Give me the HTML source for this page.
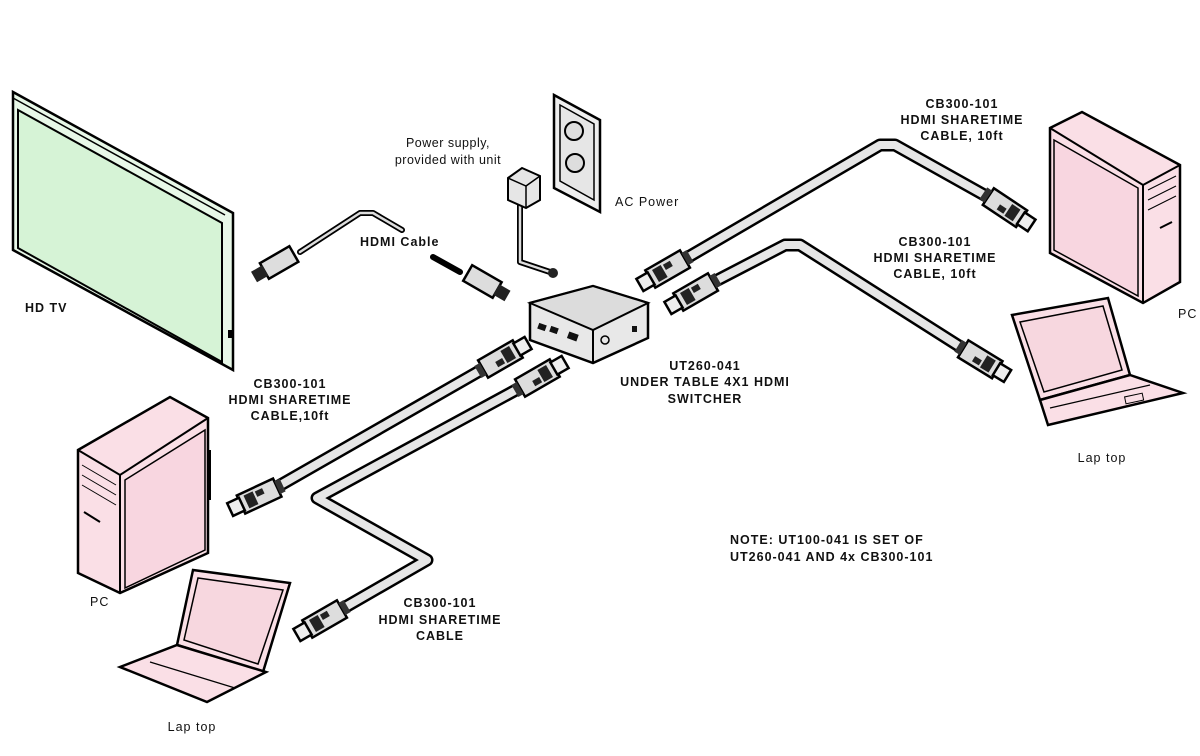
<!DOCTYPE html>
<html><head><meta charset="utf-8"><style>
html,body{margin:0;padding:0;background:#fff;width:1200px;height:756px;overflow:hidden}
text{font-family:"Liberation Sans",sans-serif;font-weight:bold;font-size:12.5px;fill:#111;letter-spacing:1px}
</style></head><body>
<svg width="1200" height="756" viewBox="0 0 1200 756" xmlns="http://www.w3.org/2000/svg">
<defs>
<g id="conn">
 <rect x="-32" y="-10" width="40" height="20" fill="#ddd" stroke="#000" stroke-width="2.5"/>
 <rect x="-26" y="-7" width="10" height="14" fill="#222"/>
 <rect x="-14" y="-6" width="8" height="6" fill="#222"/>
 <rect x="-44" y="-7" width="13" height="14" fill="#eee" stroke="#000" stroke-width="2.5"/>
 <rect x="8" y="-7" width="6" height="14" fill="#333"/>
</g>
</defs>
<g stroke-linejoin="round" stroke-linecap="round" fill="none">
<path d="M678,263 L880,145 L895,145 L995,201" stroke="#000" stroke-width="13"/>
<path d="M678,263 L880,145 L895,145 L995,201" stroke="#e6e6e6" stroke-width="8"/>
<path d="M706,286 L785,245 L800,245 L970,353" stroke="#000" stroke-width="13"/>
<path d="M706,286 L785,245 L800,245 L970,353" stroke="#e6e6e6" stroke-width="8"/>
<path d="M490,365 L270,491" stroke="#000" stroke-width="13"/>
<path d="M490,365 L270,491" stroke="#e6e6e6" stroke-width="8"/>
<path d="M527,384 L317,498 L427,560 L335,613" stroke="#000" stroke-width="13"/>
<path d="M527,384 L317,498 L427,560 L335,613" stroke="#e6e6e6" stroke-width="8"/>
<path d="M300,252 L360,213 L373,213 L402,230" stroke="#000" stroke-width="6"/>
<path d="M300,252 L360,213 L373,213 L402,230" stroke="#ddd" stroke-width="2.5"/>
<path d="M433,257 L460,272" stroke="#000" stroke-width="6"/>
<path d="M520,205 L520,262 L550,272" stroke="#000" stroke-width="6"/>
<path d="M520,205 L520,262 L550,272" stroke="#ddd" stroke-width="2.5"/>
</g>
<g transform="translate(280,262) rotate(-30)"><rect x="-18" y="-9" width="34" height="18" fill="#ddd" stroke="#000" stroke-width="2.5"/><rect x="-30" y="-6" width="13" height="12" fill="#222"/></g>
<g transform="translate(485,283) rotate(30)"><rect x="-20" y="-9" width="34" height="18" fill="#ddd" stroke="#000" stroke-width="2.5"/><rect x="13" y="-6" width="13" height="12" fill="#222"/></g>
<circle cx="553" cy="273" r="5" fill="#222"/>
<polygon points="13,92 233,213 233,370 13,250" fill="#e8f8e8" stroke="#000" stroke-width="2.5"/>
<polygon points="18,110 222,223 222,362 18,248" fill="#d6f3d6" stroke="#000" stroke-width="2"/>
<line x1="13" y1="98" x2="225" y2="215" stroke="#000" stroke-width="1.5"/>
<rect x="228" y="330" width="4" height="8" fill="#000"/>
<polygon points="508,178 522,168 540,176 540,200 526,208 508,200" fill="#e6e6e6" stroke="#000" stroke-width="2"/>
<polyline points="508,178 526,186 540,176" fill="none" stroke="#000" stroke-width="1.5"/>
<line x1="526" y1="186" x2="526" y2="208" stroke="#000" stroke-width="1.5"/>
<polygon points="554,95 600,120 600,212 554,188" fill="#eee" stroke="#000" stroke-width="2.5"/>
<polygon points="560,105 594,124 594,200 560,181" fill="#e6e6e6" stroke="#000" stroke-width="1.5"/>
<circle cx="574" cy="131" r="9" fill="#ddd" stroke="#000" stroke-width="2"/>
<circle cx="575" cy="163" r="9" fill="#ddd" stroke="#000" stroke-width="2"/>
<polygon points="530,303 593,286 648,303 648,338 593,363 530,340" fill="#e8e8e8" stroke="#000" stroke-width="2.5"/>
<polygon points="530,303 593,286 648,303 593,330" fill="#dcdcdc" stroke="#000" stroke-width="2"/>
<line x1="593" y1="330" x2="593" y2="363" stroke="#000" stroke-width="2"/>
<rect x="538" y="324" width="8" height="6" fill="#111" transform="rotate(20 542 327)"/>
<rect x="550" y="327" width="8" height="6" fill="#111" transform="rotate(20 554 330)"/>
<rect x="568" y="333" width="10" height="7" fill="#111" transform="rotate(20 573 336)"/>
<circle cx="605" cy="340" r="4" fill="none" stroke="#000" stroke-width="1.5"/>
<rect x="632" y="326" width="5" height="6" fill="#111"/>
<use href="#conn" transform="translate(995,201) rotate(213.7)"/>
<use href="#conn" transform="translate(970,353) rotate(211.5)"/>
<use href="#conn" transform="translate(678,263) rotate(330)"/>
<use href="#conn" transform="translate(706,286) rotate(330)"/>
<use href="#conn" transform="translate(270,491) rotate(335)"/>
<use href="#conn" transform="translate(335,613) rotate(330)"/>
<use href="#conn" transform="translate(490,365) rotate(150)"/>
<use href="#conn" transform="translate(527,384) rotate(150)"/>
<polygon points="1050,128 1082,112 1180,165 1180,282 1143,303 1050,253" fill="#fadfe6" stroke="#000" stroke-width="2.5"/>
<polyline points="1050,128 1143,185 1180,165" fill="none" stroke="#000" stroke-width="2"/>
<line x1="1143" y1="185" x2="1143" y2="303" stroke="#000" stroke-width="2"/>
<polygon points="1054,140 1138,188 1138,296 1054,250" fill="#f8d6e0" stroke="#000" stroke-width="1.5"/>
<line x1="1148" y1="190" x2="1176" y2="176" stroke="#000"/><line x1="1148" y1="200" x2="1176" y2="186" stroke="#000"/><line x1="1148" y1="210" x2="1176" y2="196" stroke="#000"/>
<line x1="1160" y1="228" x2="1172" y2="222" stroke="#000" stroke-width="2"/>
<polygon points="1012,315 1108,298 1130,375 1040,400" fill="#fadfe6" stroke="#000" stroke-width="2.5"/>
<polygon points="1020,322 1103,306 1122,370 1044,392" fill="#f7d7df" stroke="#000" stroke-width="1.5"/>
<polygon points="1040,400 1130,375 1183,393 1048,425" fill="#fadfe6" stroke="#000" stroke-width="2.5"/>
<line x1="1050" y1="408" x2="1150" y2="385" stroke="#000" stroke-width="1.2"/>
<rect x="1125" y="395" width="18" height="7" fill="none" stroke="#000" transform="rotate(-12 1134 398)"/>
<polygon points="78,450 170,397 208,418 208,553 120,593 78,573" fill="#fadfe6" stroke="#000" stroke-width="2.5"/>
<polyline points="78,450 120,475 208,418" fill="none" stroke="#000" stroke-width="2"/>
<line x1="120" y1="475" x2="120" y2="593" stroke="#000" stroke-width="2"/>
<polygon points="125,480 205,430 205,550 125,588" fill="#f8d6e0" stroke="#000" stroke-width="1.5"/>
<line x1="82" y1="465" x2="116" y2="485" stroke="#000"/><line x1="82" y1="475" x2="116" y2="495" stroke="#000"/><line x1="82" y1="485" x2="116" y2="505" stroke="#000"/>
<line x1="84" y1="512" x2="100" y2="522" stroke="#000" stroke-width="2"/>
<line x1="210" y1="450" x2="210" y2="500" stroke="#000" stroke-width="2"/>
<polygon points="193,570 290,583 263,672 177,645" fill="#fadfe6" stroke="#000" stroke-width="2.5"/>
<polygon points="198,578 283,590 258,664 184,640" fill="#f7d7df" stroke="#000" stroke-width="1.5"/>
<polygon points="177,645 266,672 207,702 120,667" fill="#fadfe6" stroke="#000" stroke-width="2.5"/>
<line x1="150" y1="662" x2="235" y2="688" stroke="#000" stroke-width="1.2"/>
<text x="25" y="312">HD TV</text>
<text x="360" y="246">HDMI Cable</text>
<text x="448" y="147" text-anchor="middle" style="font-weight:normal;letter-spacing:0.5px">Power supply,</text>
<text x="448" y="164" text-anchor="middle" style="font-weight:normal;letter-spacing:0.5px">provided with unit</text>
<text x="615" y="206" style="font-weight:normal">AC Power</text>
<text x="962" y="108" text-anchor="middle">CB300-101</text>
<text x="962" y="124" text-anchor="middle">HDMI SHARETIME</text>
<text x="962" y="140" text-anchor="middle">CABLE, 10ft</text>
<text x="935" y="246" text-anchor="middle">CB300-101</text>
<text x="935" y="262" text-anchor="middle">HDMI SHARETIME</text>
<text x="935" y="278" text-anchor="middle">CABLE, 10ft</text>
<text x="1178" y="318" style="font-weight:normal">PC</text>
<text x="1102" y="462" text-anchor="middle" style="font-weight:normal">Lap top</text>
<text x="705" y="370" text-anchor="middle">UT260-041</text>
<text x="705" y="386" text-anchor="middle">UNDER TABLE 4X1 HDMI</text>
<text x="705" y="403" text-anchor="middle">SWITCHER</text>
<text x="290" y="388" text-anchor="middle">CB300-101</text>
<text x="290" y="404" text-anchor="middle">HDMI SHARETIME</text>
<text x="290" y="420" text-anchor="middle">CABLE,10ft</text>
<text x="90" y="606" style="font-weight:normal">PC</text>
<text x="440" y="607" text-anchor="middle">CB300-101</text>
<text x="440" y="624" text-anchor="middle">HDMI SHARETIME</text>
<text x="440" y="640" text-anchor="middle">CABLE</text>
<text x="192" y="731" text-anchor="middle" style="font-weight:normal">Lap top</text>
<text x="730" y="544">NOTE: UT100-041 IS SET OF</text>
<text x="730" y="561">UT260-041 AND 4x CB300-101</text>
</svg>
</body></html>
